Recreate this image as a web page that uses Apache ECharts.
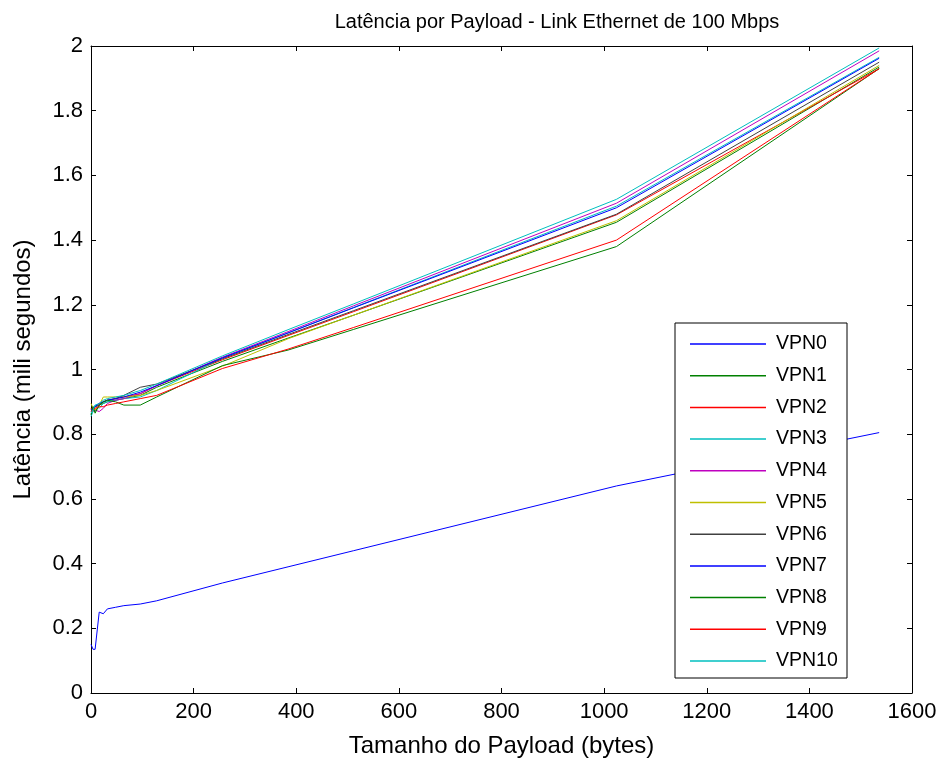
<!DOCTYPE html>
<html>
<head>
<meta charset="utf-8">
<script src="https://cdn.jsdelivr.net/npm/echarts@6/dist/echarts.min.js"></script>
<style>
  html, body { margin: 0; padding: 0; background: #fff; }
  #chart { width: 944px; height: 765px; }
</style>
</head>
<body>
<div id="chart"></div>
<script>
// payload sizes (bytes)
const payload = [0, 4, 8, 16, 24, 32, 48, 64, 96, 128, 256, 384, 512, 1024, 1536]

// latency per VPN (ms)
const vpn0 = [0.15, 0.135, 0.135, 0.25, 0.245, 0.26, 0.265, 0.27, 0.275, 0.285, 0.34, 0.39, 0.44, 0.64, 0.805]
const vpn1 = [0.875, 0.885, 0.87, 0.89, 0.895, 0.9, 0.905, 0.91, 0.92, 0.945, 1.025, 1.097, 1.168, 1.455, 1.935]
const vpn2 = [0.88, 0.87, 0.885, 0.895, 0.9, 0.905, 0.91, 0.915, 0.925, 0.95, 1.03, 1.105, 1.179, 1.478, 1.93]
const vpn3 = [0.855, 0.87, 0.89, 0.88, 0.895, 0.9, 0.905, 0.91, 0.915, 0.935, 1.035, 1.113, 1.192, 1.505, 1.965]
const vpn4 = [0.87, 0.88, 0.875, 0.87, 0.88, 0.895, 0.905, 0.91, 0.925, 0.95, 1.038, 1.117, 1.197, 1.514, 1.985]
const vpn5 = [0.895, 0.88, 0.875, 0.89, 0.915, 0.915, 0.915, 0.915, 0.92, 0.935, 1.01, 1.095, 1.168, 1.46, 1.94]
const vpn6 = [0.87, 0.875, 0.885, 0.89, 0.9, 0.905, 0.91, 0.92, 0.945, 0.955, 1.033, 1.108, 1.182, 1.48, 1.95]
const vpn7 = [0.875, 0.88, 0.885, 0.895, 0.9, 0.905, 0.91, 0.915, 0.93, 0.95, 1.036, 1.113, 1.191, 1.5, 1.962]
const vpn8 = [0.86, 0.885, 0.865, 0.89, 0.9, 0.905, 0.9, 0.89, 0.89, 0.915, 1.012, 1.06, 1.124, 1.38, 1.93]
const vpn9 = [0.87, 0.875, 0.88, 0.885, 0.885, 0.89, 0.895, 0.9, 0.91, 0.92, 1.003, 1.063, 1.13, 1.4, 1.93]
const vpn10 = [0.865, 0.875, 0.89, 0.895, 0.905, 0.91, 0.915, 0.92, 0.935, 0.955, 1.042, 1.123, 1.203, 1.526, 1.994]

const names = ['VPN0', 'VPN1', 'VPN2', 'VPN3', 'VPN4', 'VPN5', 'VPN6', 'VPN7', 'VPN8', 'VPN9', 'VPN10']
const values = [vpn0, vpn1, vpn2, vpn3, vpn4, vpn5, vpn6, vpn7, vpn8, vpn9, vpn10]

// matlab default colour order
const colors = ['#0000ff', '#008000', '#ff0000', '#00bfbf', '#bf00bf', '#bfbf00', '#404040',
  '#0000ff', '#008000', '#ff0000', '#00bfbf']

const xTicks = [0, 200, 400, 600, 800, 1000, 1200, 1400, 1600]
const yTicks = [0, 0.2, 0.4, 0.6, 0.8, 1, 1.2, 1.4, 1.6, 1.8, 2]

const font = 'Liberation Sans, Arial, sans-serif'
const chart = echarts.init(document.getElementById('chart'))

const tick = { show: true, inside: true, length: 5, lineStyle: { color: '#000' } }
const line = { show: true, onZero: false, lineStyle: { color: '#000', width: 1 } }

chart.setOption({
  animation: false,
  backgroundColor: '#fff',
  title: {
    text: 'Latência por Payload - Link Ethernet de 100 Mbps',
    left: 552,
    textAlign: 'center',
    top: 7,
    textStyle: { fontFamily: font, fontSize: 20, fontWeight: 'normal', color: '#000' }
  },
  grid: { left: 91, right: 32, top: 46, bottom: 72 },
  xAxis: [{
    type: 'value',
    min: xTicks[0],
    max: xTicks[xTicks.length - 1],
    interval: 200,
    name: 'Tamanho do Payload (bytes)',
    nameLocation: 'middle',
    nameGap: 41,
    nameTextStyle: { fontFamily: font, fontSize: 24, color: '#000' },
    axisLine: line,
    axisTick: tick,
    splitLine: { show: false },
    axisLabel: { fontFamily: font, fontSize: 22, color: '#000', margin: 8, formatter: v => String(v) }
  }, {
    type: 'value',
    position: 'top',
    min: xTicks[0],
    max: xTicks[xTicks.length - 1],
    interval: 200,
    axisLine: line,
    axisTick: tick,
    splitLine: { show: false },
    axisLabel: { show: false }
  }],
  yAxis: [{
    type: 'value',
    min: yTicks[0],
    max: yTicks[yTicks.length - 1],
    interval: 0.2,
    name: 'Latência (mili segundos)',
    nameLocation: 'middle',
    nameGap: 56,
    nameTextStyle: { fontFamily: font, fontSize: 24, color: '#000' },
    axisLine: line,
    axisTick: tick,
    splitLine: { show: false },
    axisLabel: { fontFamily: font, fontSize: 22, color: '#000', margin: 8 }
  }, {
    type: 'value',
    position: 'right',
    min: yTicks[0],
    max: yTicks[yTicks.length - 1],
    interval: 0.2,
    axisLine: line,
    axisTick: tick,
    splitLine: { show: false },
    axisLabel: { show: false }
  }],
  legend: {
    orient: 'vertical',
    left: 675,
    top: 323,
    padding: [11, 10, 10, 15],
    itemGap: 11.7,
    itemWidth: 76,
    itemHeight: 1.5,
    icon: 'rect',
    z: 10,
    textStyle: { fontFamily: font, fontSize: 19.5, lineHeight: 19, color: '#000', padding: [0, 0, 0, 5] },
    data: names
  },
  graphic: [{
    type: 'rect',
    z: 9,
    shape: { x: 675, y: 323, width: 172, height: 355 },
    style: { fill: '#fff', stroke: '#000', lineWidth: 1 }
  }],
  series: names.map((n, i) => ({
    name: n,
    type: 'line',
    symbol: 'none',
    color: colors[i],
    lineStyle: { width: 1, color: colors[i] },
    data: payload.map((p, j) => [p, values[i][j]])
  }))
})
</script>
</body>
</html>
